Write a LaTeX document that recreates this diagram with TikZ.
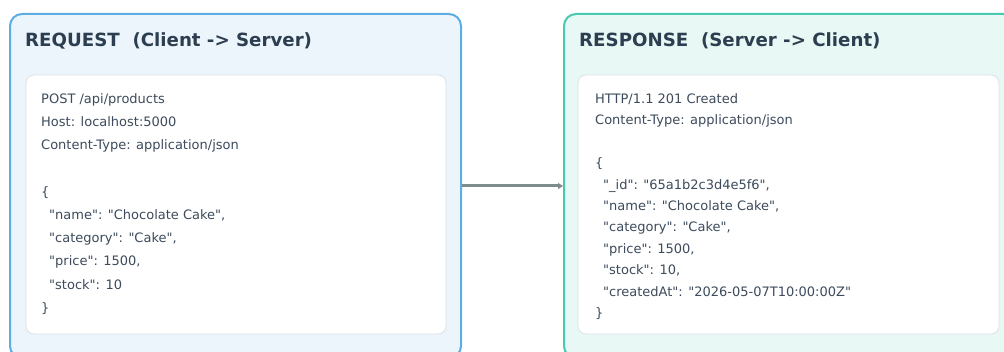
\documentclass[tikz,border=0pt]{standalone}
\usepackage{fontspec}
\setmainfont{DejaVu Sans}[Ligatures=TeXOff]
\usepackage{xcolor}
\usepackage{tikz}
\usetikzlibrary{arrows.meta}

\definecolor{reqline}{HTML}{5DADE2}
\definecolor{reqfill}{HTML}{EBF5FB}
\definecolor{respline}{HTML}{48C9B0}
\definecolor{respfill}{HTML}{E8F8F5}
\definecolor{cardline}{HTML}{DCE1E6}
\definecolor{headtext}{HTML}{2C3E50}
\definecolor{bodytext}{HTML}{3D4B5C}
\definecolor{flowgray}{HTML}{7F8C8D}

\begin{document}
\begin{tikzpicture}[x=1pt, y=-1pt]
  \tikzstyle{panel} = [rectangle, rounded corners=12pt, line width=2pt, inner sep=0pt, minimum width=451pt, minimum height=344pt]
  \tikzstyle{card}  = [rectangle, rounded corners=8pt, draw=cardline, fill=white, line width=0.8pt, inner sep=0pt, minimum height=259pt]
  \tikzstyle{head}  = [anchor=base west, inner sep=0pt, text=headtext, font=\fontsize{18.2}{22}\selectfont\bfseries]
  \tikzstyle{line}  = [anchor=base west, inner sep=0pt, text=bodytext, font=\fontsize{13}{16}\selectfont]
  \tikzstyle{edge}  = [-{Triangle[length=5pt,width=6pt]}, line width=3pt, draw=flowgray]

  \useasboundingbox (0,0) rectangle (1004,352);
  \clip (0,0) rectangle (1004,352);

  % the two panels
  \node[panel, draw=reqline, fill=reqfill] (req) at (235.5,186) {};
  \node[panel, draw=respline, fill=respfill] (resp) at (789.5,186) {};
  \draw[edge] (req) -- (resp);

  \node[card, minimum width=420pt] (reqcard) at (236,204.5) {};
  \node[card, minimum width=421pt] (respcard) at (788.5,204.5) {};

  \node[head] (reqhead) at (25,46.5) {REQUEST\ \ (Client -> Server)};
  \node[head] (resphead) at (579,46.5) {RESPONSE\ \ (Server -> Client)};

  % request message
  \node[line] (l1) at (41,103.5) {POST /api/products};
  \node[line] (l2) at (41,126.7) {Host: localhost:5000};
  \node[line] (l3) at (41,149.9) {Content-Type: application/json};
  \node[line] (l4) at (41,196.3) {\{};
  \node[line] (l5) at (49,219.5) {"name": "Chocolate Cake",};
  \node[line] (l6) at (49,242.7) {"category": "Cake",};
  \node[line] (l7) at (49,265.9) {"price": 1500,};
  \node[line] (l8) at (49,289.1) {"stock": 10};
  \node[line] (l9) at (41,312.3) {\}};

  % response message
  \node[line] (r1) at (595,103.5) {HTTP/1.1 201 Created};
  \node[line] (r2) at (595,124.9) {Content-Type: application/json};
  \node[line] (r3) at (595,167.7) {\{};
  \node[line] (r4) at (603,189.1) {"\_id": "65a1b2c3d4e5f6",};
  \node[line] (r5) at (603,210.5) {"name": "Chocolate Cake",};
  \node[line] (r6) at (603,231.9) {"category": "Cake",};
  \node[line] (r7) at (603,253.3) {"price": 1500,};
  \node[line] (r8) at (603,274.7) {"stock": 10,};
  \node[line] (r9) at (603,296.1) {"createdAt": "2026-05-07T10:00:00Z"};
  \node[line] (r10) at (595,317.5) {\}};
\end{tikzpicture}
\end{document}
